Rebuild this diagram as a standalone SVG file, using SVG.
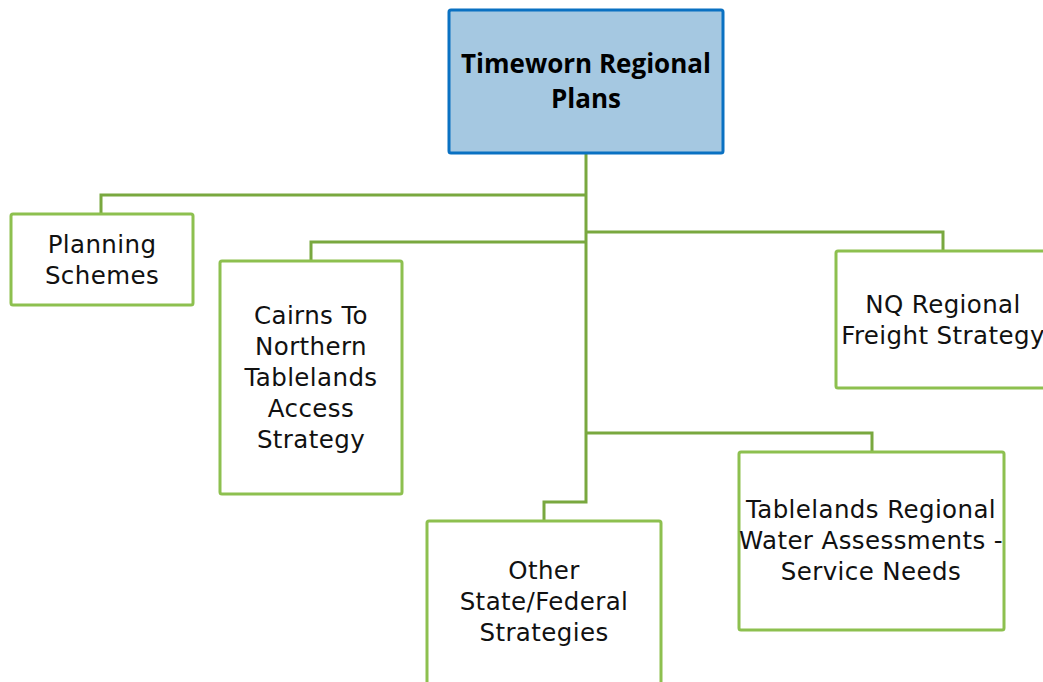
<svg xmlns="http://www.w3.org/2000/svg" width="1043" height="682" viewBox="0 0 1043 682">
  <style>
    .box { fill: #ffffff; stroke: #8dc04f; stroke-width: 3; }
    .root { fill: #a5c8e1; stroke: #0a71c2; stroke-width: 3; }
    .link { fill: none; stroke: #79a83f; stroke-width: 3; stroke-linejoin: miter; }
    .lbl { font-family: "DejaVu Sans", "Liberation Sans", sans-serif; font-size: 24.5px; letter-spacing: 0.4px; fill: #111111; text-anchor: middle; }
    .ttl { font-family: "Open Sans", "Liberation Sans", sans-serif; font-weight: bold; font-size: 26px; fill: #000000; text-anchor: middle; }
  </style>
  <rect width="1043" height="682" fill="#ffffff"/>

  <g id="connectors">
    <path class="link" d="M586,153 V502 H544 V521"/>
    <path class="link" d="M586,195 H101 V214"/>
    <path class="link" d="M586,242 H311 V261"/>
    <path class="link" d="M586,232 H943 V251"/>
    <path class="link" d="M586,433 H872 V452"/>
  </g>

  <g id="root">
    <rect class="root" x="449" y="10" width="274" height="143" rx="2"/>
    <text class="ttl" x="586" y="73">Timeworn Regional</text>
    <text class="ttl" x="586" y="108">Plans</text>
  </g>

  <g id="planning-schemes">
    <rect class="box" x="11" y="214" width="182" height="91" rx="2"/>
    <text class="lbl" x="102" y="253">Planning</text>
    <text class="lbl" x="102" y="284">Schemes</text>
  </g>

  <g id="cairns-access">
    <rect class="box" x="220" y="261" width="182" height="233" rx="2"/>
    <text class="lbl" x="311" y="324">Cairns To</text>
    <text class="lbl" x="311" y="355">Northern</text>
    <text class="lbl" x="311" y="386">Tablelands</text>
    <text class="lbl" x="311" y="417">Access</text>
    <text class="lbl" x="311" y="448">Strategy</text>
  </g>

  <g id="nq-freight">
    <rect class="box" x="836" y="251" width="220" height="137" rx="2"/>
    <text class="lbl" x="943" y="313">NQ Regional</text>
    <text class="lbl" x="943" y="344">Freight Strategy</text>
  </g>

  <g id="water-assessments">
    <rect class="box" x="739" y="452" width="265" height="178" rx="2"/>
    <text class="lbl" x="871" y="518">Tablelands Regional</text>
    <text class="lbl" x="871" y="549">Water Assessments -</text>
    <text class="lbl" x="871" y="580">Service Needs</text>
  </g>

  <g id="other-strategies">
    <rect class="box" x="427" y="521" width="234" height="180" rx="2"/>
    <text class="lbl" x="544" y="579">Other</text>
    <text class="lbl" x="544" y="610">State/Federal</text>
    <text class="lbl" x="544" y="641">Strategies</text>
  </g>
</svg>
